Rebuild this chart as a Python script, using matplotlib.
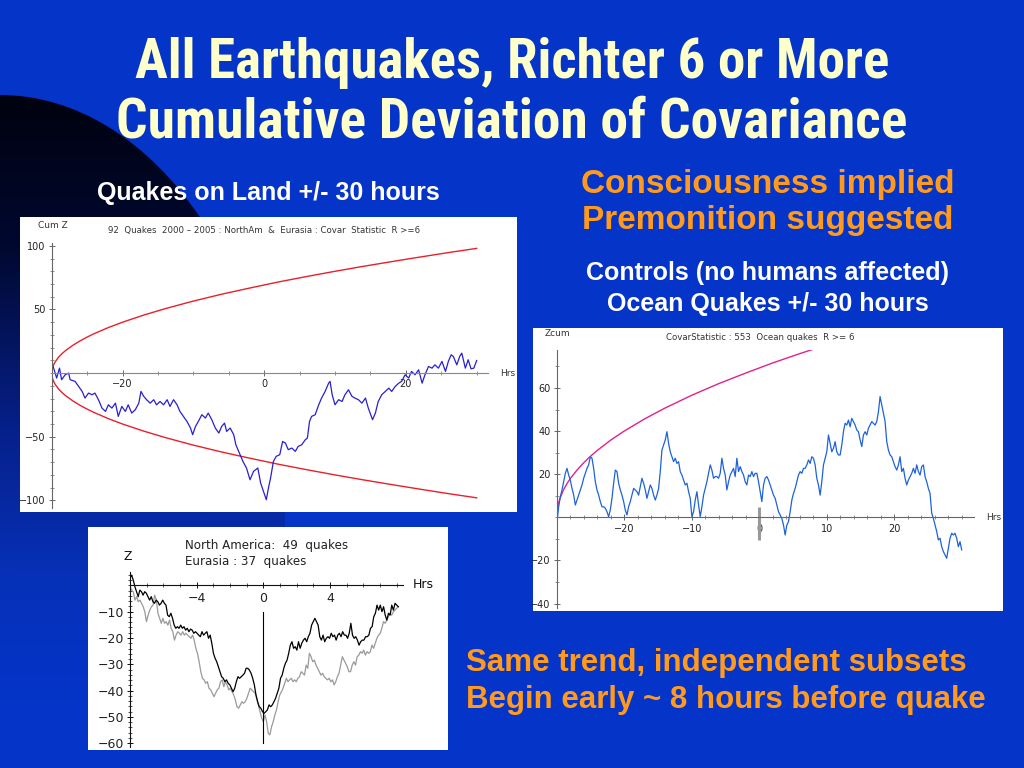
import numpy as np
import matplotlib
matplotlib.use("Agg")
import matplotlib.pyplot as plt
from matplotlib.patches import Rectangle, Ellipse
from matplotlib.colors import LinearSegmentedColormap
from matplotlib.ticker import MultipleLocator

# ---- slide text ----
title_lines = ["All Earthquakes, Richter 6 or More", "Cumulative Deviation of Covariance"]
land_caption = "Quakes on Land +/- 30 hours"
claim_lines = ["Consciousness implied", "Premonition suggested"]
control_lines = ["Controls (no humans affected)", "Ocean Quakes +/- 30 hours"]
trend_lines = ["Same trend, independent subsets", "Begin early ~ 8 hours before quake"]

# ---- panel 1: land quakes, cumulative Z vs hours ----
land_hrs = [-30.0, -29.8, -29.3, -28.9, -28.6, -28.1, -27.6, -27.4, -26.7, -26.2, -25.7, -25.3,
            -24.8, -24.3, -23.9, -23.4, -22.9, -22.4, -22.0, -21.5, -21.0, -20.6, -20.1, -19.6,
            -19.2, -18.7, -18.2, -17.7, -17.4, -17.0, -16.6, -16.1, -15.6, -15.2, -14.7, -14.2,
            -13.7, -13.3, -12.8, -12.3, -11.9, -11.4, -10.9, -10.4, -10.1, -9.7, -9.3, -8.8,
            -8.3, -7.9, -7.4, -6.9, -6.4, -6.0, -5.6, -5.3, -4.8, -4.3, -4.0, -3.5, -3.0, -2.5,
            -2.0, -1.5, -0.9, -0.5, -0.1, 0.3, 0.6, 0.9, 1.3, 1.7, 2.2, 2.6, 3.0, 3.4, 3.9, 4.4,
            4.8, 5.3, 5.8, 6.1, 6.4, 6.7, 7.2, 7.7, 8.1, 8.6, 9.1, 9.3, 9.6, 10.0, 10.5, 11.0,
            11.4, 11.9, 12.4, 12.8, 13.3, 13.8, 14.3, 14.7, 15.3, 15.7, 16.1, 16.6, 17.1, 17.6,
            18.0, 18.5, 19.0, 19.4, 19.9, 20.4, 20.8, 21.3, 21.8, 22.3, 22.7, 23.2, 23.7, 24.1,
            24.6, 25.1, 25.6, 26.0, 26.4, 26.7, 27.2, 27.6, 27.9, 28.4, 28.8, 29.2, 29.6, 30.0]
land_z = [3.9, 5.2, -3.9, 3.9, -5.2, -1.3, 0.0, -5.2, -6.5, -10.5, -14.4, -19.6,
          -15.7, -17.0, -15.7, -20.9, -27.5, -30.1, -24.9, -27.5, -23.6, -34.0, -26.2, -30.1,
          -24.9, -31.4, -28.8, -23.6, -14.4, -18.3, -20.9, -23.6, -20.9, -24.9, -22.3, -24.9,
          -20.9, -26.2, -20.9, -24.9, -30.1, -34.0, -38.0, -43.2, -48.4, -41.9, -38.0, -32.7,
          -35.3, -31.4, -36.6, -43.2, -47.1, -41.9, -39.3, -45.8, -43.2, -48.4, -56.3, -62.8,
          -69.4, -74.6, -83.8, -77.2, -74.6, -86.4, -92.9, -99.5, -90.3, -82.5, -69.4, -65.4,
          -64.1, -53.7, -55.0, -60.2, -58.9, -61.5, -57.6, -56.3, -52.4, -51.0, -38.0, -34.0,
          -32.7, -24.9, -19.6, -14.4, -7.9, -6.5, -17.0, -24.9, -20.9, -22.3, -17.0, -13.1,
          -18.3, -19.6, -20.9, -23.6, -19.6, -27.5, -36.6, -31.4, -22.3, -17.0, -14.4, -11.8,
          -14.4, -10.5, -7.9, -6.5, -1.3, -3.9, 1.3, -1.3, 2.6, -7.9, -1.3, 5.2, 3.9, 6.5,
          3.9, 9.2, 1.3, 9.2, 14.4, 13.1, 6.5, 13.1, 15.7, 3.9, 10.5, 3.4, 3.9, 9.9]

# significance envelope (same shape in panel 2)
env_hrs = [-30.0, -29.9, -29.7, -29.5, -29.0, -28.5, -28.0, -27.0, -26.0, -25.0, -24.0, -22.0,
           -20.0, -17.0, -14.0, -10.0, -6.0, -2.0, 2.0, 6.0, 10.0, 14.0, 18.0, 22.0, 26.0, 30.0]
env_z = [0.0, 4.0, 6.9, 8.9, 12.7, 15.5, 17.9, 21.9, 25.3, 28.3, 31.0, 35.8,
         40.0, 45.6, 50.6, 56.6, 62.0, 66.9, 71.6, 75.9, 80.0, 83.9, 87.6, 91.2, 94.7, 98.0]

# ---- panel 2: ocean quakes (controls), samples every ~0.25 h from -30.2 to 30.0 ----
ocean_z = [1.9, -2.0, 4.9, 9.6, 12.7, 16.5, 20.4, 22.7, 19.6, 17.3, 13.4, 10.3, 5.7, 8.0, 10.3,
           12.7, 15.0, 18.1, 20.4, 22.7, 24.3, 28.1, 27.4, 22.7, 16.5, 12.7, 10.3, 7.3, 4.9, 4.9,
           4.2, 2.6, 0.3, 3.4, 8.8, 15.8, 21.9, 21.2, 15.8, 12.7, 10.3, 7.3, 3.4, 1.1, 4.9, 7.3,
           10.3, 13.4, 12.7, 11.9, 10.3, 14.2, 18.1, 15.8, 12.7, 8.8, 11.9, 15.0, 13.4, 10.3,
           8.0, 10.3, 13.4, 21.2, 31.2, 33.5, 35.9, 39.7, 34.3, 30.4, 28.1, 25.8, 27.4, 25.0,
           25.8, 21.2, 19.6, 17.3, 15.0, 15.8, 11.9, 8.8, 0.3, 2.6, 8.0, 11.9, 5.7, 0.3, 4.9,
           10.3, 13.4, 16.5, 20.4, 24.3, 21.9, 18.1, 18.9, 18.9, 18.1, 20.4, 27.4, 22.7, 19.6,
           12.7, 16.5, 19.6, 21.2, 22.7, 18.9, 27.4, 21.2, 23.5, 21.2, 19.6, 16.5, 15.0, 19.6,
           18.9, 21.2, 18.9, 20.4, 20.4, 16.5, 11.9, 7.3, 15.0, 18.1, 18.9, 17.3, 15.0, 12.7,
           10.3, 8.8, 5.7, 2.6, 1.1, -0.5, -3.6, -8.2, -3.6, -2.0, 2.6, 8.0, 11.1, 13.4, 16.5,
           19.6, 21.2, 20.4, 22.7, 22.7, 24.3, 26.6, 25.0, 28.1, 27.4, 24.3, 18.1, 15.0, 10.3,
           16.5, 24.3, 27.4, 30.4, 38.2, 34.3, 30.4, 32.0, 35.1, 30.4, 28.9, 28.9, 33.5, 39.7,
           43.6, 42.8, 45.1, 42.0, 45.9, 44.4, 42.8, 40.5, 39.7, 35.9, 32.8, 38.2, 39.7, 38.2,
           41.3, 42.8, 44.4, 43.6, 42.8, 44.4, 49.0, 56.0, 52.1, 48.2, 44.4, 35.1, 31.2, 28.9,
           28.1, 25.8, 23.5, 21.9, 24.3, 28.1, 21.2, 22.7, 18.1, 15.0, 17.3, 18.9, 20.4, 22.7,
           20.4, 24.3, 21.2, 19.6, 23.5, 24.3, 18.9, 16.5, 13.4, 11.1, 1.9, -0.5, -3.6, -6.6,
           -10.5, -9.7, -13.6, -15.9, -17.5, -19.0, -14.4, -9.7, -7.4, -8.2, -7.4, -9.7, -13.6,
           -11.3, -15.1]
ocean_start, ocean_end = -30.2, 30.0

# ---- panel 3: North America (black) and Eurasia (gray), -8 .. 8 h ----
na_z = [2.7, 3.9, 2.0, -0.5, -2.4, -4.3, -1.8, -2.4, -3.7, -2.4, -3.0, -4.3, -5.6, -4.3, -6.2,
        -6.8, -5.6, -6.2, -7.5, -6.8, -5.6, -6.8, -7.5, -11.3, -11.9, -10.6, -12.5, -15.1, -16.3,
        -15.7, -16.3, -15.1, -16.3, -15.7, -17.0, -16.3, -17.6, -16.6, -17.0, -18.2, -17.6, -18.2,
        -18.9, -19.5, -17.6, -18.9, -18.2, -17.6, -20.1, -18.9, -22.0, -25.8, -27.7, -29.0, -30.9,
        -32.8, -34.7, -35.3, -36.6, -35.9, -37.2, -37.8, -39.1, -40.4, -39.1, -36.6, -34.7, -35.3,
        -34.7, -34.1, -33.4, -31.5, -31.5, -32.2, -33.4, -35.3, -37.8, -41.6, -44.2, -46.1, -46.7,
        -48.0, -48.6, -48.0, -47.3, -45.4, -46.1, -45.4, -44.2, -42.9, -41.0, -39.1, -35.3, -34.1,
        -31.5, -29.6, -28.4, -25.8, -22.7, -21.4, -23.9, -23.3, -24.6, -21.4, -23.9, -22.0, -20.8,
        -20.1, -21.4, -19.5, -18.2, -15.1, -13.8, -12.5, -13.8, -15.1, -19.5, -20.8, -18.9, -21.4,
        -20.1, -19.5, -20.1, -18.2, -19.5, -18.9, -20.8, -18.9, -18.2, -19.5, -17.6, -18.9, -18.9,
        -20.1, -18.2, -14.4, -18.9, -20.1, -19.5, -20.8, -22.7, -21.4, -20.8, -20.8, -19.5, -19.5,
        -18.9, -16.3, -15.7, -11.9, -10.6, -7.5, -9.4, -7.5, -10.0, -8.1, -11.3, -13.2, -10.6,
        -11.3, -7.5, -9.4, -6.8, -7.5, -8.1]
eu_z = [-0.5, -1.8, -2.4, -5.6, -4.3, -6.2, -5.6, -6.8, -8.1, -10.0, -13.8, -11.3, -9.4, -8.1,
        -7.5, -3.7, -5.6, -10.6, -12.5, -14.4, -12.5, -14.4, -13.8, -15.1, -13.2, -16.3, -17.6,
        -20.8, -18.9, -17.6, -18.2, -18.9, -17.6, -18.9, -18.2, -18.9, -19.5, -20.1, -18.9, -20.8,
        -23.9, -25.8, -29.0, -32.8, -35.3, -35.9, -37.2, -36.6, -39.1, -39.7, -41.0, -42.3, -41.0,
        -39.7, -39.1, -36.6, -35.9, -38.5, -36.6, -37.8, -39.7, -39.1, -40.4, -41.6, -43.5, -46.1,
        -46.7, -45.4, -44.2, -44.8, -44.2, -42.9, -41.0, -39.1, -39.7, -40.4, -41.0, -42.9, -45.4,
        -48.0, -50.5, -51.8, -49.2, -51.8, -56.2, -56.8, -53.7, -51.8, -49.2, -47.3, -44.2, -41.6,
        -40.4, -39.1, -37.2, -35.3, -36.6, -35.9, -35.3, -36.6, -35.9, -36.6, -35.3, -34.7, -32.8,
        -33.4, -34.1, -30.3, -31.5, -25.8, -27.1, -29.0, -28.4, -30.3, -31.5, -32.8, -34.1, -33.4,
        -34.7, -35.3, -35.9, -35.3, -36.6, -35.9, -37.8, -36.6, -34.7, -33.4, -30.3, -27.1, -28.4,
        -29.6, -30.9, -32.8, -32.8, -30.3, -29.0, -30.3, -27.1, -26.5, -25.2, -25.8, -24.6, -26.5,
        -25.2, -25.8, -25.2, -22.7, -23.9, -22.0, -20.1, -18.9, -18.2, -16.3, -13.8, -14.4, -13.2,
        -11.9, -10.6, -11.3, -10.0, -9.4, -8.7, -8.1]
sub_start, sub_end = -8.0, 8.1

BG = "#0434C8"
W, H = 1024, 768
NARROW = ["Arial Narrow", "Liberation Sans Narrow", "Roboto Condensed", "PT Sans Narrow",
          "Archivo Narrow", "IBM Plex Sans Condensed", "DejaVu Sans"]


def px_box(x0, y0, x1, y1):
    return [x0 / W, 1 - y1 / H, (x1 - x0) / W, (y1 - y0) / H]


def style_axes(ax, axis_col, label_size):
    ax.patch.set_visible(False)
    ax.spines["top"].set_visible(False)
    ax.spines["right"].set_visible(False)
    ax.spines["bottom"].set_position(("data", 0))
    ax.spines["left"].set_color(axis_col)
    ax.spines["bottom"].set_color(axis_col)
    ax.spines["left"].set_linewidth(0.8)
    ax.spines["bottom"].set_linewidth(0.8)
    ax.tick_params(which="major", direction="inout", length=5, width=0.7,
                   colors=axis_col, labelsize=label_size, labelcolor="#222222", pad=2)
    ax.tick_params(which="minor", direction="inout", length=2.5, width=0.5, colors=axis_col)


fig = plt.figure(figsize=(10.24, 7.68), dpi=100)
fig.patch.set_facecolor(BG)

bg = fig.add_axes([0, 0, 1, 1])
bg.set_xlim(0, W)
bg.set_ylim(H, 0)
bg.axis("off")

# dark swoosh in the top-left corner, fading down into the slide blue
cmap = LinearSegmentedColormap.from_list(
    "swoosh", [(0.0, "#00020f"), (0.25, "#010830"), (0.55, "#06208a"), (0.8, "#0631b8"), (1.0, BG)])
grad = np.linspace(0, 1, 256).reshape(-1, 1)
im = bg.imshow(grad, cmap=cmap, extent=(0, 320, 700, 95), origin="upper",
               aspect="auto", zorder=0)
clip = Ellipse((0, 520), 570, 850, transform=bg.transData, facecolor="none", edgecolor="none")
bg.add_patch(clip)
im.set_clip_path(clip)
bg.set_xlim(0, W)
bg.set_ylim(H, 0)

# white picture frames
for (x0, y0, x1, y1) in [(20, 217, 517, 512), (533, 328, 1003, 611), (88, 527, 448, 750)]:
    bg.add_patch(Rectangle((x0, y0), x1 - x0, y1 - y0, facecolor="white",
                           edgecolor="none", zorder=1))

# slide text
for txt, y, fs in zip(title_lines, [78, 138], [39.5, 40]):
    bg.text(512, y, txt, ha="center", va="baseline", color="#FFFFCC", fontsize=fs,
            fontweight="bold", family=NARROW, fontstretch="condensed", zorder=3)
bg.text(268, 200, land_caption, ha="center", va="baseline", color="white", fontsize=18,
        fontweight="bold", family="Liberation Sans", zorder=3)
for txt, y in zip(claim_lines, [193, 229]):
    bg.text(768, y, txt, ha="center", va="baseline", color="#FF9A1E", fontsize=24,
            fontweight="bold", family="Liberation Sans", zorder=3)
for txt, y in zip(control_lines, [280, 311]):
    bg.text(768, y, txt, ha="center", va="baseline", color="white", fontsize=18,
            fontweight="bold", family="Liberation Sans", zorder=3)
for txt, y in zip(trend_lines, [671, 708]):
    bg.text(466, y, txt, ha="left", va="baseline", color="#FF9A1E", fontsize=22.5,
            fontweight="bold", family="Liberation Sans", zorder=3)

# ---- panel 1 ----
ax1 = fig.add_axes(px_box(51.7, 243.3, 488, 508))
ax1.set_xlim(-30, 31.6)
ax1.set_ylim(-106, 102)
style_axes(ax1, "#666666", 7)
ax1.spines["bottom"].set_color("#888888")
ax1.plot(env_hrs, env_z, color="#E8202A", lw=1.0)
ax1.plot(env_hrs, [-v for v in env_z], color="#E8202A", lw=1.0)
ax1.plot(land_hrs, land_z, color="#2A1FD0", lw=0.9)
ax1.set_xticks([-20, 0, 20])
ax1.set_yticks([-100, -50, 50, 100])
ax1.yaxis.set_minor_locator(MultipleLocator(10))
ax1.xaxis.set_minor_locator(MultipleLocator(5))
bg.text(38, 226, "Cum Z", fontsize=6.5, color="#333333", ha="left", va="center", zorder=3)
bg.text(264, 231, "92  Quakes  2000 \u2013 2005 : NorthAm  &  Eurasia : Covar  Statistic  R >=6",
        fontsize=6.2, color="#333333", ha="center", va="center", zorder=3)
bg.text(500, 373, "Hrs", fontsize=6.5, color="#333333", ha="left", va="center", zorder=3)

# ---- panel 2 ----
ax2 = fig.add_axes(px_box(556.7, 350, 973.5, 608.3))
ax2.set_xlim(-30, 31.75)
ax2.set_ylim(-42.2, 77.6)
style_axes(ax2, "#666666", 7)
ax2.plot(env_hrs, env_z, color="#E0228E", lw=1.0, clip_on=True)
ocean_hrs = np.linspace(ocean_start, ocean_end, len(ocean_z))
ax2.plot(ocean_hrs, ocean_z, color="#1E62DA", lw=0.9)
ax2.plot([0, 0], [-10.5, 5], color="#999999", lw=2.2, solid_capstyle="butt")
ax2.set_xticks([-20, -10, 0, 10, 20])
ax2.set_yticks([-40, -20, 20, 40, 60])
ax2.yaxis.set_minor_locator(MultipleLocator(10))
ax2.xaxis.set_minor_locator(MultipleLocator(2))
bg.text(545, 333, "Zcum", fontsize=6.5, color="#333333", ha="left", va="center", zorder=3)
bg.text(760, 338, "CovarStatistic : 553  Ocean quakes  R >= 6",
        fontsize=6.2, color="#333333", ha="center", va="center", zorder=3)
bg.text(986, 517, "Hrs", fontsize=6.5, color="#333333", ha="left", va="center", zorder=3)

# ---- panel 3 ----
ax3 = fig.add_axes(px_box(130, 571.7, 403.3, 746.7))
ax3.set_xlim(-8, 8.4)
ax3.set_ylim(-61.3, 5.2)
style_axes(ax3, "#111111", 9)
sub_hrs = np.linspace(sub_start, sub_end, len(na_z))
eu_hrs = np.linspace(sub_start, sub_end, len(eu_z))
ax3.plot(eu_hrs, eu_z, color="#9A9A9A", lw=0.9)
ax3.plot(sub_hrs, na_z, color="#000000", lw=0.9)
ax3.plot([0, 0], [-10, -60], color="#000000", lw=0.8)
ax3.set_xticks([-4, 0, 4])
ax3.set_yticks([-60, -50, -40, -30, -20, -10])
ax3.yaxis.set_minor_locator(MultipleLocator(2))
ax3.xaxis.set_minor_locator(MultipleLocator(1))
bg.text(124, 557, "Z", fontsize=9, color="#111111", ha="left", va="center", zorder=3)
bg.text(185, 546, "North America:  49  quakes", fontsize=8.6, color="#222222",
        ha="left", va="center", zorder=3)
bg.text(185, 561, "Eurasia : 37  quakes", fontsize=8.6, color="#222222",
        ha="left", va="center", zorder=3)
bg.text(413, 584, "Hrs", fontsize=9, color="#111111", ha="left", va="center", zorder=3)

fig.savefig("out.png", dpi=100, facecolor=BG)
